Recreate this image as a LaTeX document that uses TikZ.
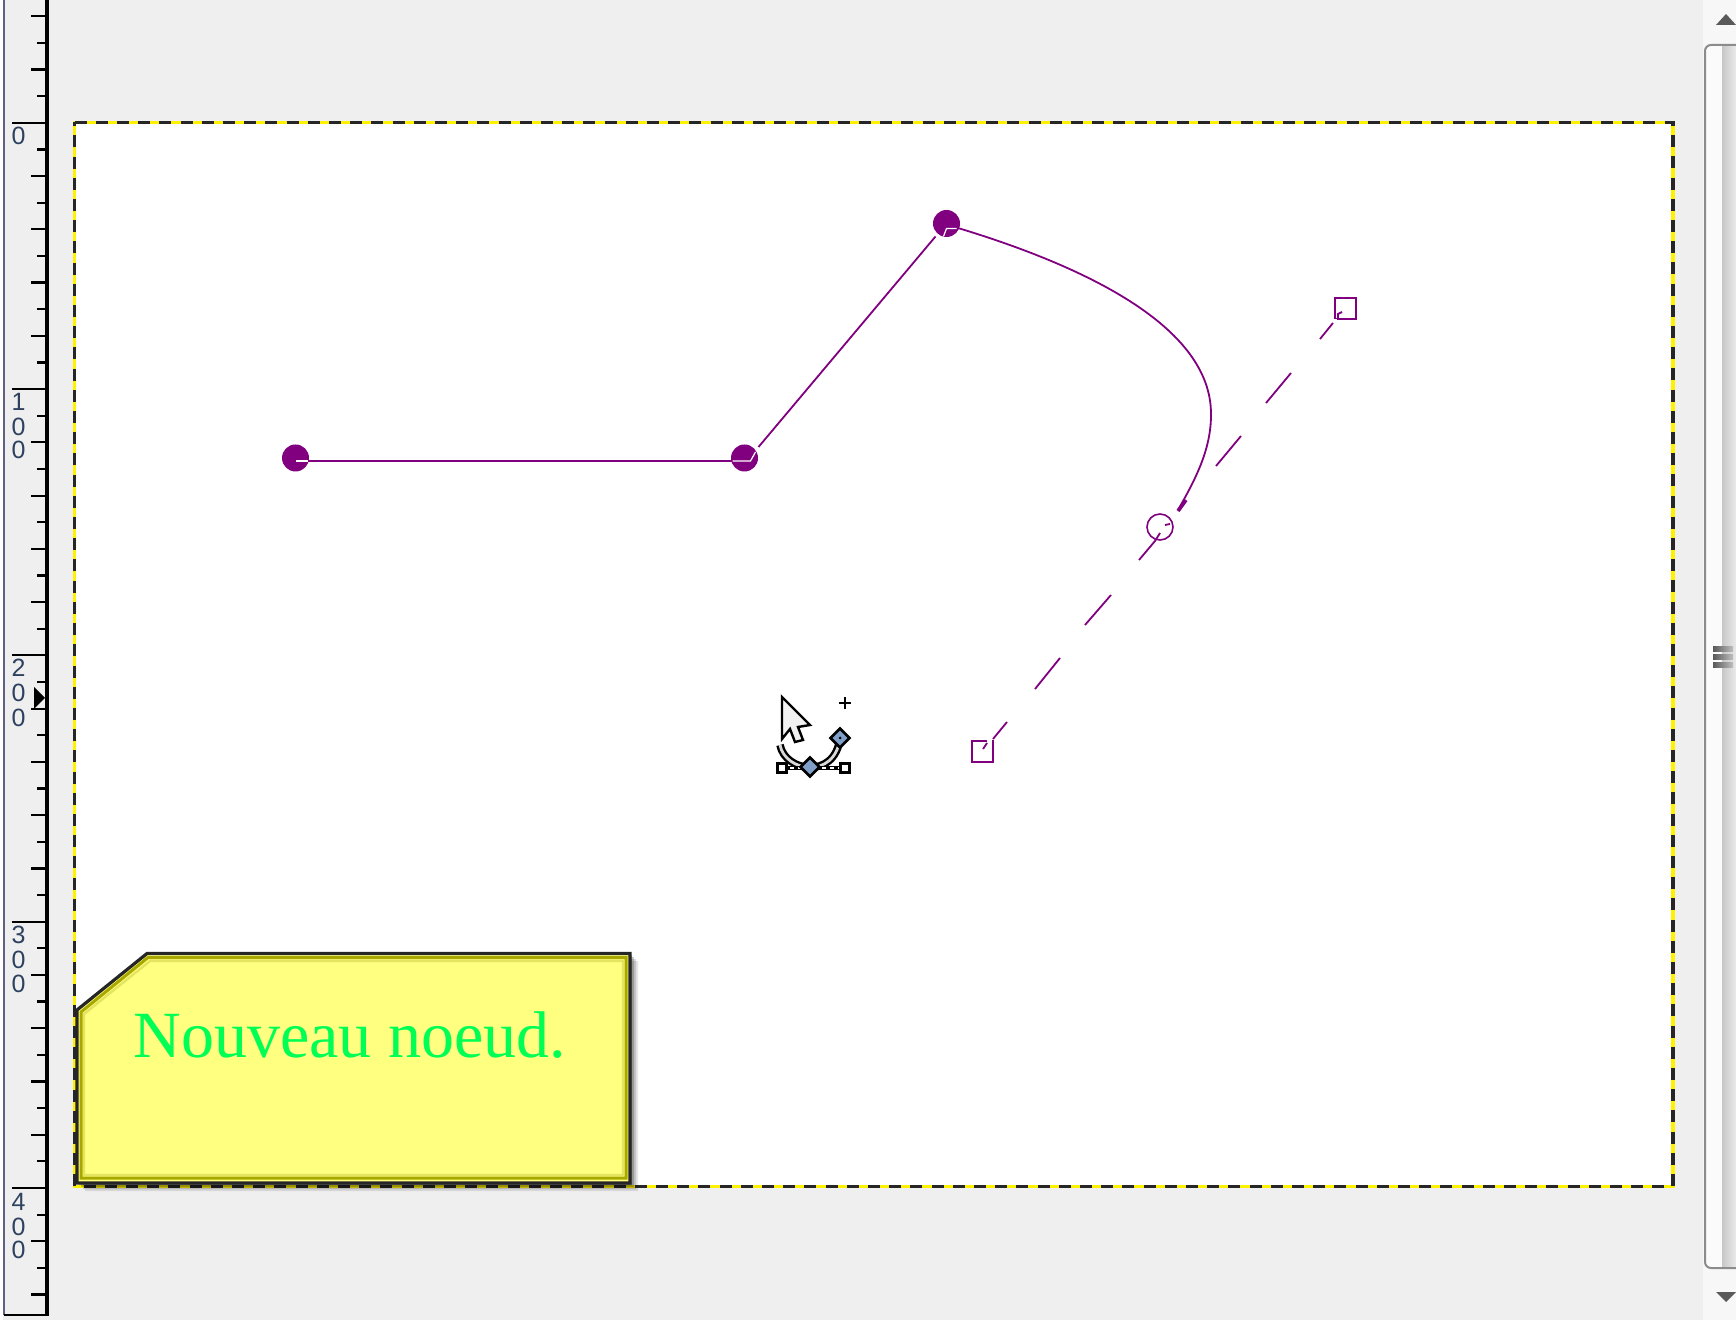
\documentclass[tikz,border=0pt]{standalone}
\usepackage{fontspec}
\setmainfont{Liberation Serif}
\newfontfamily\rulerfont{Liberation Sans}
\usetikzlibrary{calc,shadings,shapes.geometric}
\definecolor{wingray}{HTML}{EFEFEF}
\definecolor{pathpurple}{HTML}{800080}
\definecolor{notefill}{HTML}{FFFF80}
\definecolor{noteedge}{HTML}{A8A800}
\definecolor{noteedgesoft}{HTML}{E4E460}
\definecolor{notetext}{HTML}{00FF55}
\definecolor{rulertext}{HTML}{2E4260}
\definecolor{iconblue}{HTML}{7F9FC8}
\tikzset{
  x=0.5pt,y=-0.5pt,
  tick/.style={draw=black,line width=1.1pt},
  rulerdigit/.style={font=\rulerfont\fontsize{12.5}{12.5}\selectfont,text=rulertext,inner sep=0pt},
  anchorpt/.style={circle,fill=pathpurple,minimum size=13.5pt,inner sep=0pt},
  handlebox/.style={rectangle,draw=pathpurple,line width=1pt,fill=none,minimum size=10.5pt,inner sep=0pt},
  handlering/.style={circle,draw=pathpurple,line width=0.8pt,fill=none,minimum size=13pt,inner sep=0pt},
  pathline/.style={draw=pathpurple,line width=0.9pt},
  iconknob/.style={diamond,draw=black,line width=1.3pt,fill=iconblue,minimum size=10pt,inner sep=0pt,aspect=1},
  iconbox/.style={rectangle,draw=black,line width=1.2pt,fill=white,minimum size=4.5pt,inner sep=0pt},
}
\begin{document}
\begin{tikzpicture}
\useasboundingbox (0,0) rectangle (1736,1320);
\clip (0,0) rectangle (1736,1320);
% window and canvas
\fill[wingray] (0,0) rectangle (1736,1320);
\fill[white] (0,0) rectangle (3,1320);
\draw[color=black!45!blue!25!gray,line width=1.2pt] (4,0) -- (4,1315);
\fill[white] (74.5,122.5) rectangle (1673,1186.5);
% ruler
\draw[black,line width=2pt] (47,0) -- (47,1316);
\draw[black,line width=1.1pt] (4,1315) -- (47,1315);
\foreach \k in {-4,...,44}{
  \pgfmathsetmacro{\yy}{122.8+26.63*\k}
  \pgfmathtruncatemacro{\modten}{mod(\k+40,10)}
  \pgfmathtruncatemacro{\modtwo}{mod(\k+40,2)}
  \ifnum\modten=0
    \draw[tick] (12,\yy) -- (46,\yy);
  \else\ifnum\modtwo=0
    \draw[tick] (31,\yy) -- (46,\yy);
  \else
    \draw[tick] (37,\yy) -- (46,\yy);
  \fi\fi
}
\node[rulerdigit] (r0a) at (18.5,136) {0};
\node[rulerdigit] (r1a) at (18.5,402) {1};
\node[rulerdigit] (r1b) at (18.5,427) {0};
\node[rulerdigit] (r1c) at (18.5,450) {0};
\node[rulerdigit] (r2a) at (18.5,668) {2};
\node[rulerdigit] (r2b) at (18.5,693) {0};
\node[rulerdigit] (r2c) at (18.5,718) {0};
\node[rulerdigit] (r3a) at (18.5,935) {3};
\node[rulerdigit] (r3b) at (18.5,960) {0};
\node[rulerdigit] (r3c) at (18.5,984) {0};
\node[rulerdigit] (r4a) at (18.5,1202) {4};
\node[rulerdigit] (r4b) at (18.5,1227) {0};
\node[rulerdigit] (r4c) at (18.5,1250) {0};
\fill[black] (34,687) -- (45,698) -- (34,709) -- cycle;
% scrollbar
\fill[color=white!50!wingray] (1703,0) rectangle (1736,1320);
\fill[color=white!97!gray] (1706,45) rectangle (1722,1268);
\shade[left color=black!22,right color=black!8] (1722,45) rectangle (1736,1268);
\draw[color=black!45,line width=1pt,rounded corners=3pt] (1736,45) -- (1705,45) -- (1705,1268) -- (1736,1268);
\fill[color=black!65] (1726,14) -- (1736,25) -- (1716,25) -- cycle;
\fill[color=black!65] (1716,1292) -- (1736,1292) -- (1726,1302) -- cycle;
\foreach \yy in {649.5,657.5,665.5}{\shade[left color=black!65,right color=black!25] (1713,\yy-2.5) rectangle (1733,\yy+2.5);}
% selection outline
\draw[yellow,line width=1.6pt] (74.5,122.5) rectangle (1673,1186.5);
\draw[black!85,line width=1.6pt,dash pattern=on 6pt off 4.6pt] (74.5,122.5) -- (1673,122.5) -- (1673,1186.5) -- (74.5,1186.5) -- cycle;
% path
\node[anchorpt] (n1) at (295.5,458) {};
\node[anchorpt] (n2) at (744.5,458) {};
\node[anchorpt] (n3) at (946.5,223.5) {};
\draw[pathline,line width=1.1pt] (n1.center) ++(10,3) -- ($(n2.center)+(-10,3)$);
\draw[white,line width=0.6pt] (n1.center) ++(0,3) -- ++(12,0);
\draw[white,line width=0.6pt] (n2.center) ++(-12,3) -- ++(18,0) -- ++(5,-9);
\draw[pathline] (n2.center) ++(14,-11) -- ($(n3.center)+(-11,13)$);
\draw[white,line width=0.6pt] (n3.center) ++(-3,13) -- ++(3,-8) -- ++(10,0);
\draw[pathline] (958,228) .. controls (1080,265) and (1212,325) .. (1211,415) .. controls (1211,450) and (1195,480) .. (1178,510);
\draw[pathline,line width=1.8pt] (1178,511) -- (1186,500);
% handles
\node[handlebox] (h1) at (1345,309) {};
\node[handlebox] (h2) at (982.5,751.5) {};
\node[handlering] (hc) at (1160,527) {};
\draw[white,line width=1.2pt] (1331,320.5) -- (1338,320.5);
\draw[white,line width=1.2pt] (987,740.5) -- (992,740.5);
\draw[pathline] (1342,312) -- (1338,314) -- (1338,320);
\draw[pathline] (1333,323) -- (1320,339);
\draw[pathline] (1291,373) -- (1266,403);
\draw[pathline] (1241,436) -- (1216,466);
\draw[pathline] (1165,525) -- (1170,524);
\draw[pathline] (1160,533) -- (1155,541) -- (1139,560);
\draw[pathline] (1111,595) -- (1085,625);
\draw[pathline] (1060,658) -- (1035,689);
\draw[pathline] (1007,722) -- (993,739);
\draw[pathline] (987,743) -- (983,749);
% cursor icon
\draw[black,line width=3.8pt] (780,745) .. controls (785,772) and (835,780) .. (840,738);
\draw[white!85!black,line width=1.4pt] (780,745) .. controls (785,772) and (835,780) .. (840,738);
\draw[black,line width=1.8pt] (782,768) -- (845,768);
\draw[white,line width=0.9pt,dash pattern=on 2pt off 2pt] (782,768) -- (845,768);
\node[iconbox] (ib1) at (782,768) {};
\node[iconbox] (ib2) at (845,768) {};
\node[iconknob] (ik1) at (810,767) {};
\node[iconknob] (ik2) at (840,738) {};
\fill[black] (840,738) circle (1.5);
\draw[black,line width=1.2pt,fill=white!95!black,line join=miter] (782,697) -- (810,725) -- (798,727) -- (803,740) -- (795,742) -- (790,729) -- (782,739) -- cycle;
\draw[black,line width=1.1pt] (839,703) -- (851,703) (845,697) -- (845,709);
% note shadow
\foreach \dd/\oo in {8/0.10,6/0.14,4/0.2,2/0.28}{
  \fill[black,opacity=\oo] (630,953+\dd) -- (630+\dd,953+\dd) -- (630+\dd,1183+\dd) -- (77+\dd,1183+\dd) -- (77+\dd,1183) -- (630,1183) -- cycle;
}
% note
\draw[draw=black!85,line width=1.6pt,fill=notefill] (147,953.5) -- (630,953.5) -- (630,1183) -- (77,1183) -- (77,1010) -- cycle;
\draw[noteedgesoft,line width=1.2pt] (150,961) -- (623,961) -- (623,1175) -- (84,1175) -- (84,1014) -- cycle;
\draw[noteedge,line width=1.5pt,line join=miter] (148,957.5) -- (626,957.5) -- (626,1178) -- (81,1178) -- (81,1012) -- cycle;
\node[anchor=base west,inner sep=0pt,text=notetext,font=\fontsize{33}{38}\selectfont] (label) at (133,1057) {Nouveau noeud.};
\end{tikzpicture}
\end{document}
